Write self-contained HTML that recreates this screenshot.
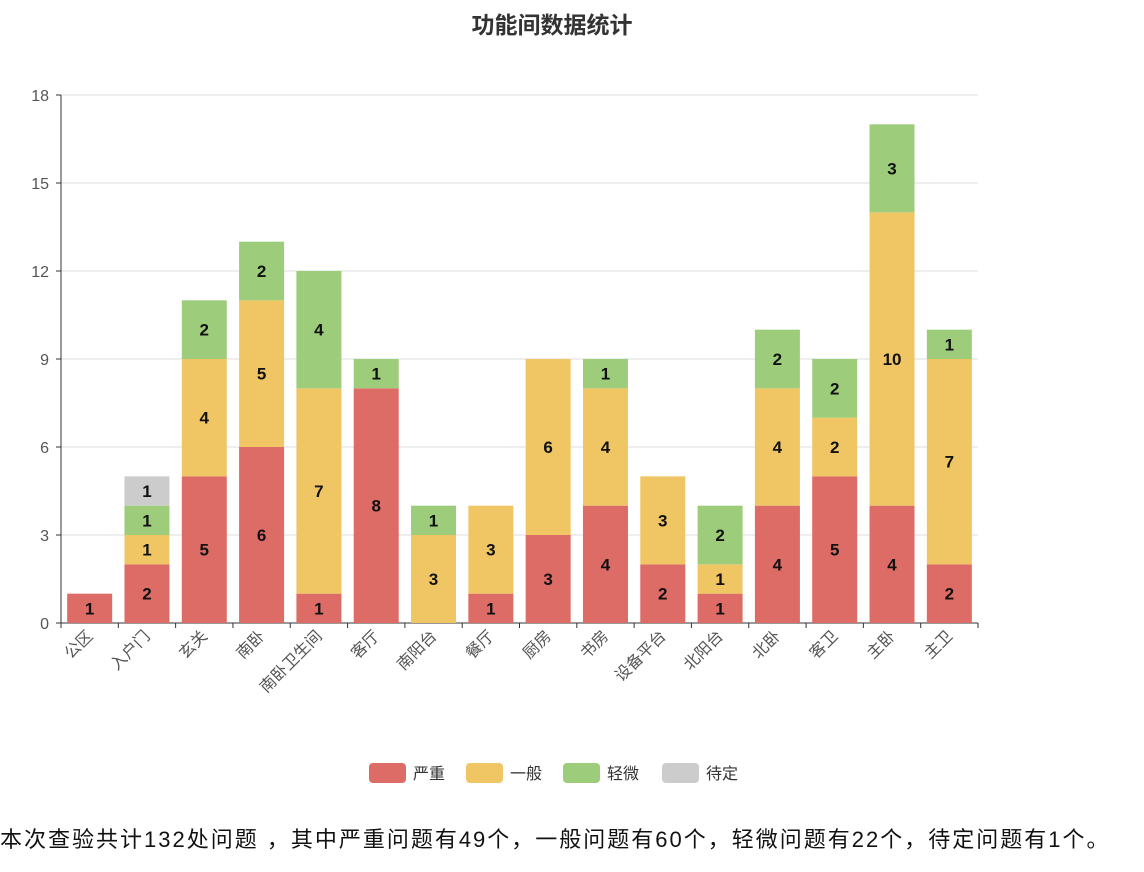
<!DOCTYPE html>
<html><head><meta charset="utf-8">
<style>
body{margin:0;background:#fff;width:1144px;height:872px;overflow:hidden;font-family:"Liberation Sans","Noto Sans CJK SC",sans-serif;}
#summary{position:absolute;left:0;top:822px;font-size:22px;letter-spacing:2px;color:#111;white-space:nowrap;}
</style></head>
<body>
<svg id="chart" width="1144" height="800" style="position:absolute;left:0;top:0" font-family="Liberation Sans, Noto Sans CJK SC, sans-serif"></svg>
<div id="summary">本次查验共计132处问题 ，其中严重问题有49个，一般问题有60个，轻微问题有22个，待定问题有1个。</div>
<script>
const categories=["公区","入户门","玄关","南卧","南卧卫生间","客厅","南阳台","餐厅","厨房","书房","设备平台","北阳台","北卧","客卫","主卧","主卫"];
const severe=[1,2,5,6,1,8,0,1,3,4,2,1,4,5,4,2];
const normal=[0,1,4,5,7,0,3,3,6,4,3,1,4,2,10,7];
const minor=[0,1,2,2,4,1,1,0,0,1,0,2,2,2,3,1];
const pending=[0,1,0,0,0,0,0,0,0,0,0,0,0,0,0,0];
const seriesNames=["严重","一般","轻微","待定"];
const yTicks=[0,3,6,9,12,15,18];
const colors=["#dd6b66","#f0c665","#9dcc7a","#cccccc"];
const series=[severe,normal,minor,pending];
const NS="http://www.w3.org/2000/svg";
const svg=document.getElementById('chart');
const x0=61,x1=978,y0=623,yTop=95,yMax=18;
const band=(x1-x0)/categories.length;
const yS=v=>y0-(v/yMax)*(y0-yTop);
const xS=i=>x0+band*i;
function mk(tag,a){const e=document.createElementNS(NS,tag);for(const k in a)e.setAttribute(k,a[k]);svg.appendChild(e);return e;}
const title=mk('text',{x:552,y:33,'text-anchor':'middle','font-size':23,'font-weight':'bold',fill:'#333'});
title.textContent='功能间数据统计';


yTicks.forEach(t=>{
  const g=mk('line',{x1:x0,x2:x1,y1:yS(t),y2:yS(t),stroke:t===0?'#333':'#ddd','stroke-width':1});
  
  
  const tk=mk('line',{x1:x0-5,x2:x0,y1:yS(t),y2:yS(t),stroke:'#333'});
  
  
  const l=mk('text',{x:x0-12,y:yS(t)+6,'text-anchor':'end','font-size':16,fill:'#555'});
  l.textContent=t;
  
  
});
const ya=mk('line',{x1:x0,x2:x0,y1:yTop,y2:y0,stroke:'#333'});


for(let i=0;i<=categories.length;i++){
  const t=mk('line',{x1:xS(i),x2:xS(i),y1:y0,y2:y0+5,stroke:'#333'});
  
  
}
categories.forEach((c,i)=>{
  let acc=0;
  const cx=xS(i)+band/2;
  series.forEach((s,si)=>{
    const v=s[i];
    if(!v)return;
    const r=mk('rect',{x:cx-22.5,y:yS(acc+v),width:45,height:yS(acc)-yS(acc+v),fill:colors[si]});
    
    
    const t=mk('text',{x:cx,y:(yS(acc)+yS(acc+v))/2+6,'text-anchor':'middle','font-size':17,'font-weight':'bold',fill:'#111'});
    t.textContent=v;
    
    
    acc+=v;
  });
  const lx=cx+4,ly=y0+14;
  const lab=mk('text',{x:lx,y:ly,'text-anchor':'end','font-size':16,fill:'#555',transform:`rotate(-45 ${lx} ${ly})`});
  lab.textContent=c;
  
  
});
let lx=369;
seriesNames.forEach((n,i)=>{
  const r=mk('rect',{x:lx,y:763,width:37,height:20,rx:4,fill:colors[i]});
  
  
  const t=mk('text',{x:lx+44,y:779,'font-size':16,fill:'#333'});
  t.textContent=n;
  
  
  lx+=[97,97,99,0][i];
});
</script>
</body></html>
